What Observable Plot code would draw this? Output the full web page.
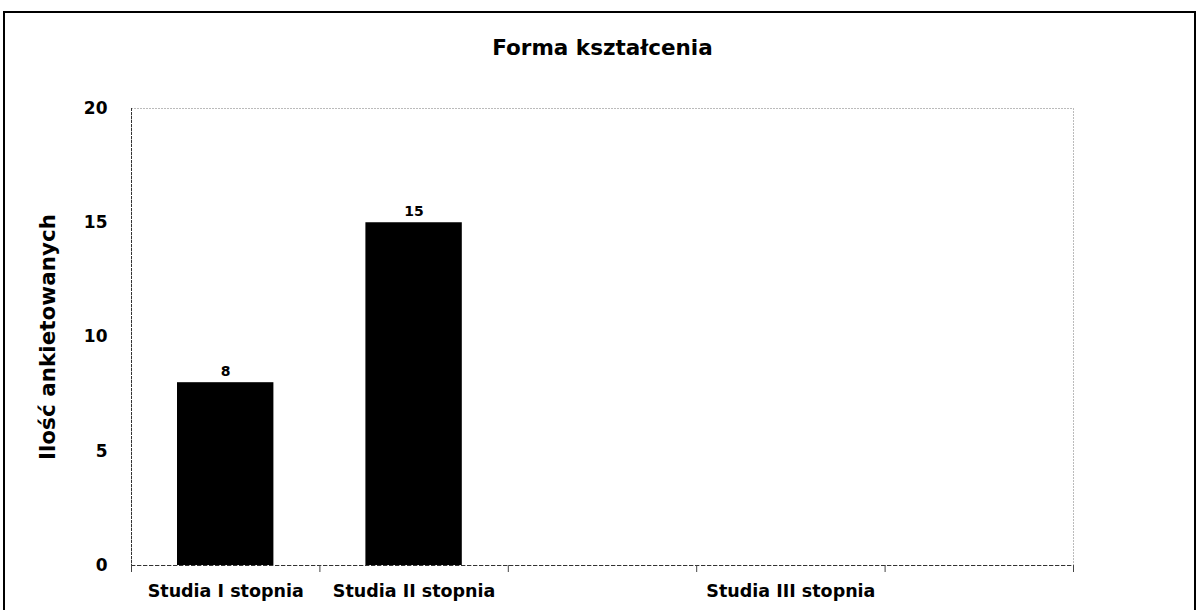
<!DOCTYPE html>
<html>
<head>
<meta charset="utf-8">
<script src="https://cdn.jsdelivr.net/npm/d3@7"></script>
<script src="https://cdn.jsdelivr.net/npm/@observablehq/plot@0.6"></script>
<style>
  html, body { margin: 0; padding: 0; background: #fff; overflow: hidden; width: 1201px; height: 610px; }
  #chart { position: absolute; left: 0; top: 0; }
  #border { position: absolute; left: 3px; top: 11px; width: 1193px; height: 700px; border: 2px solid #000; box-sizing: border-box; pointer-events: none; }
</style>
</head>
<body>
<div id="chart"></div>
<div id="border"></div>
<script>
const title = "Forma kształcenia";
const yLabel = "Ilość ankietowanych";
const categories = ["Studia I stopnia", "Studia II stopnia", "", "Studia III stopnia", ""];
const counts = [8, 15, null, null, null];
const yTicks = [0, 5, 10, 15, 20];

const rows = categories.map((c, i) => ({i, name: c, value: counts[i]}));
const bars = rows.filter(d => d.value != null);
const boundaries = d3.range(categories.length + 1);
const centers = rows.map(d => d.i + 0.5);

const chart = Plot.plot({
  width: 1201,
  height: 610,
  marginLeft: 131,
  marginRight: 128,
  marginTop: 108,
  marginBottom: 45,
  style: {background: "transparent", color: "#000"},
  x: {domain: [0, categories.length]},
  y: {domain: [0, 20]},
  marks: [
    Plot.frame({stroke: "#777", strokeDasharray: "1,2"}),
    Plot.rectY(bars, {x1: "i", x2: d => d.i + 1, y: "value", fill: "#000", insetLeft: 46, insetRight: 46}),
    Plot.ruleX([0], {stroke: "#333", strokeDasharray: "3,1"}),
    Plot.ruleY([0], {stroke: "#333", strokeDasharray: "4,2"}),
    Plot.text(bars, {x: d => d.i + 0.5, y: "value", text: d => String(d.value), dy: -11,
      fontFamily: "DejaVu Sans", fontWeight: "bold", fontSize: 14, fill: "#000"}),
    Plot.axisY({ticks: yTicks, tickSize: 0, tickPadding: 24, label: null,
      fontFamily: "DejaVu Sans", fontWeight: "bold", fontSize: 17}),
    Plot.axisX({ticks: boundaries, tickSize: 7, tickFormat: () => "", label: null, stroke: "#444"}),
    Plot.axisX({ticks: centers, tickSize: 0, tickPadding: 19, label: null,
      tickFormat: (d) => categories[Math.floor(d)],
      fontFamily: "DejaVu Sans", fontWeight: "bold", fontSize: 17.5}),
    Plot.text([yLabel], {frameAnchor: "left", dx: -83, rotate: -90, textAnchor: "middle",
      fontFamily: "DejaVu Sans", fontWeight: "bold", fontSize: 21.5, fill: "#000"}),
    Plot.text([title], {frameAnchor: "top", dy: -69,
      fontFamily: "DejaVu Sans", fontWeight: "bold", fontSize: 21.5, fill: "#000"})
  ]
});
document.getElementById("chart").appendChild(chart);
</script>
</body>
</html>
